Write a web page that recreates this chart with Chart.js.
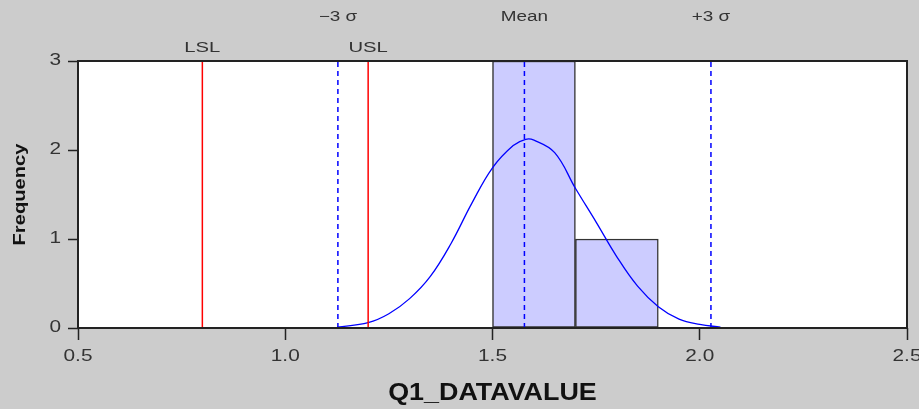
<!DOCTYPE html>
<html>
<head>
<meta charset="utf-8">
<script src="https://cdn.jsdelivr.net/npm/chart.js@4"></script>
<style>
  html, body { margin: 0; padding: 0; background: #cccccc; }
  #caja { width: 919px; height: 409px; }
</style>
</head>
<body>
<div id="caja"><canvas id="grafico"></canvas></div>
<script>
// histograma
const centrosBarras = [1.6, 1.8];
const frecuencias = [3, 1];

// curva normal
const curvaX = [1.125, 1.2, 1.25, 1.3, 1.35, 1.4, 1.45, 1.5, 1.55, 1.58, 1.6, 1.65, 1.7, 1.75, 1.8, 1.85, 1.9, 1.95, 2.0, 2.05];
const curvaY = [0.01, 0.06, 0.16, 0.33, 0.58, 0.95, 1.40, 1.80, 2.05, 2.12, 2.11, 1.97, 1.57, 1.19, 0.80, 0.47, 0.24, 0.10, 0.04, 0.01];

// limites de especificacion y lineas sigma
const limitesNombre = ["LSL", "USL"];
const limitesValor = [0.8, 1.2];
const sigmaNombre = ["\u22123 \u03c3", "Mean", "+3 \u03c3"];
const sigmaValor = [1.127, 1.577, 2.027];

const ticksX = [0.5, 1.0, 1.5, 2.0, 2.5];
const ticksY = [0, 1, 2, 3];
const tituloX = "Q1_DATAVALUE";
const tituloY = "Frequency";

const fuente = "'Liberation Sans', Arial, sans-serif";

function lineaVertical(x, color, dash) {
  return {
    type: "line",
    data: [{ x: x, y: 0 }, { x: x, y: 3 }],
    borderColor: color,
    borderWidth: 1.5,
    borderDash: dash,
    pointRadius: 0,
    fill: false,
    order: 1,
  };
}

const datasets = [
  {
    type: "bar",
    data: centrosBarras.map((c, i) => ({ x: c, y: frecuencias[i] })),
    backgroundColor: "#ccccff",
    borderColor: "#333333",
    borderWidth: 1.5,
    borderSkipped: false,
    barPercentage: 1,
    categoryPercentage: 1,
    order: 10,
  },
  {
    type: "line",
    data: curvaX.map((x, i) => ({ x: x, y: curvaY[i] })),
    borderColor: "#0000ff",
    borderWidth: 1.3,
    pointRadius: 0,
    tension: 0.4,
    fill: false,
    order: 2,
  },
];
limitesValor.forEach((v) => datasets.push(lineaVertical(v, "#ff0000", [])));
sigmaValor.forEach((v) => datasets.push(lineaVertical(v, "#0000ff", [5, 4])));

// texto estirado a lo ancho como en la imagen original
function texto(ctx, str, x, y, size, bold, estirar, align, rotar) {
  ctx.save();
  ctx.translate(x, y);
  if (rotar) ctx.rotate(-Math.PI / 2);
  ctx.scale(estirar, 1);
  ctx.font = (bold ? "bold " : "") + size + "px " + fuente;
  ctx.textAlign = align;
  ctx.textBaseline = "middle";
  ctx.fillText(str, 0, 0);
  ctx.restore();
}

// fondo blanco del area, marco y todos los textos
const marco = {
  id: "marco",
  beforeDraw(chart) {
    const { ctx, chartArea: a } = chart;
    ctx.save();
    ctx.fillStyle = "#ffffff";
    ctx.fillRect(a.left, a.top, a.right - a.left, a.bottom - a.top);
    ctx.restore();
  },
  afterDraw(chart) {
    const { ctx, chartArea: a, scales } = chart;
    ctx.save();
    ctx.strokeStyle = "#222222";
    ctx.lineWidth = 2;
    ctx.strokeRect(a.left, a.top, a.right - a.left, a.bottom - a.top);

    ctx.fillStyle = "#333333";
    limitesNombre.forEach((n, i) => {
      texto(ctx, n, scales.x.getPixelForValue(limitesValor[i]), 48, 15, false, 1.35, "center");
    });
    sigmaNombre.forEach((n, i) => {
      texto(ctx, n, scales.x.getPixelForValue(sigmaValor[i]), 17, 14, false, 1.35, "center");
    });
    ticksX.forEach((v) => {
      texto(ctx, v.toFixed(1), scales.x.getPixelForValue(v), 357, 16, false, 1.3, "center");
    });
    ticksY.forEach((v) => {
      texto(ctx, String(v), 61, scales.y.getPixelForValue(v), 16, false, 1.3, "right");
    });
    ctx.fillStyle = "#111111";
    texto(ctx, tituloX, (a.left + a.right) / 2, 393, 24, true, 1.12, "center");
    texto(ctx, tituloY, 21, (a.top + a.bottom) / 2, 16, true, 1.26, "center", true);
    ctx.restore();
  },
};

new Chart(document.getElementById("grafico"), {
  data: { datasets: datasets },
  options: {
    responsive: true,
    maintainAspectRatio: false,
    animation: false,
    layout: { padding: { top: 61, right: 12, left: 0, bottom: 0 } },
    plugins: { legend: { display: false }, tooltip: { enabled: false } },
    scales: {
      x: {
        type: "linear",
        min: 0.5,
        max: 2.5,
        offset: false,
        afterBuildTicks: (s) => { s.ticks = ticksX.map((v) => ({ value: v })); },
        afterFit: (s) => { s.height = 81; s.paddingLeft = 0; s.paddingRight = 0; },
        grid: { offset: false, drawOnChartArea: false, tickLength: 12, tickColor: "#222222", tickWidth: 1.5 },
        border: { display: false },
        ticks: { display: false },
      },
      y: {
        min: 0,
        max: 3,
        afterBuildTicks: (s) => { s.ticks = ticksY.map((v) => ({ value: v })); },
        afterFit: (s) => { s.width = 78; s.paddingTop = 0; s.paddingBottom = 0; },
        grid: { drawOnChartArea: false, tickLength: 10, tickColor: "#222222", tickWidth: 1.5 },
        border: { display: false },
        ticks: { display: false },
      },
    },
  },
  plugins: [marco],
});
</script>
</body>
</html>
